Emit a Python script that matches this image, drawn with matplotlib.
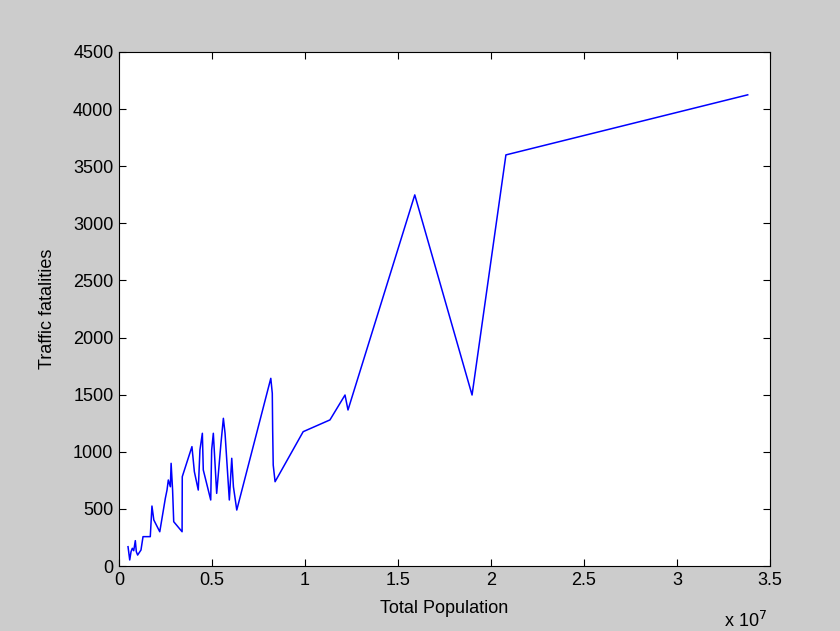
import matplotlib.pyplot as plt
from matplotlib.ticker import FuncFormatter

# population (persons) vs traffic fatalities
population = [
    4.84e5, 5.75e5, 6.45e5, 7.15e5, 7.9e5, 8.76e5, 9.3e5, 1.0e6, 1.18e6,
    1.29e6, 1.68e6, 1.77e6, 1.87e6, 2.19e6, 2.49e6, 2.58e6, 2.65e6, 2.76e6,
    2.80e6, 2.88e6, 2.94e6, 3.39e6, 3.40e6, 3.92e6, 4.05e6, 4.26e6, 4.35e6,
    4.48e6, 4.53e6, 4.93e6, 4.98e6, 5.07e6, 5.25e6, 5.48e6, 5.61e6, 5.70e6,
    5.93e6, 6.06e6, 6.15e6, 6.33e6, 8.16e6, 8.24e6, 8.26e6, 8.29e6, 8.39e6,
    9.90e6, 1.134e7, 1.215e7, 1.231e7, 1.59e7, 1.898e7, 2.08e7, 3.38e7,
]
fatalities = [
    169, 53, 125, 155, 134, 222, 125, 96, 140,
    257, 257, 525, 403, 300, 593, 665, 753, 694,
    899, 665, 388, 300, 782, 1045, 826, 665, 1016,
    1162, 841, 578, 1016, 1162, 636, 1074, 1293, 1162,
    578, 943, 694, 490, 1643, 1512, 1191, 884, 738,
    1176, 1279, 1497, 1366, 3249, 1497, 3599, 4125,
]

plt.rcParams['font.family'] = ['Liberation Sans', 'DejaVu Sans']

fig = plt.figure(figsize=(8.4, 6.31), dpi=100, facecolor='#cccccc')
ax = fig.add_axes([0.1417, 0.103, 0.775, 0.8146])
ax.plot(population, fatalities, color='#0000ff', lw=1.1)

ax.set_xlim(0, 3.5e7)
ax.set_ylim(0, 4500)
ax.set_xticks([i * 0.5e7 for i in range(8)])
ax.set_yticks(range(0, 4501, 500))
ax.xaxis.set_major_formatter(FuncFormatter(lambda v, _: f'{v / 1e7:g}'))
ax.tick_params(direction='in', top=True, right=True, length=5, width=0.8,
               labelsize=13, colors='black', pad=4)
for s in ax.spines.values():
    s.set_linewidth(0.8)

ax.set_xlabel('Total Population', fontsize=13, labelpad=8)
ax.set_ylabel('Traffic fatalities', fontsize=13, labelpad=12)
fig.text(0.862, 0.0, r'x 10$^7$', fontsize=13, ha='left', va='bottom')

fig.savefig('out.png', dpi=100, facecolor=fig.get_facecolor())
